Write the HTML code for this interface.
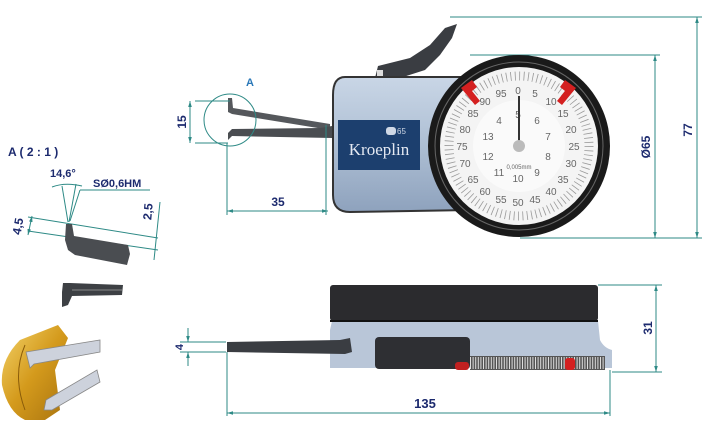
<!DOCTYPE html>
<html><head><meta charset="utf-8"><style>
html,body{margin:0;padding:0;background:#fff;}
svg{display:block;}
.d{stroke:#2e8a86;stroke-width:1;fill:none;}
.t{font-family:"Liberation Sans",sans-serif;font-weight:bold;fill:#1c2a6e;}
.n{font-family:"Liberation Sans",sans-serif;fill:#666;font-size:10px;text-anchor:middle;}
</style></head><body>
<svg width="712" height="426" viewBox="0 0 712 426" xmlns="http://www.w3.org/2000/svg">
<defs>
<marker id="a" viewBox="0 0 10 10" refX="10" refY="5" markerWidth="6" markerHeight="6" orient="auto-start-reverse"><path d="M0,2 L10,5 L0,8z" fill="#2e8a86"/></marker>
<linearGradient id="body" x1="0" y1="0" x2="0" y2="1"><stop offset="0" stop-color="#c9d6e6"/><stop offset="0.5" stop-color="#aebfd4"/><stop offset="1" stop-color="#8ea2bd"/></linearGradient>
<linearGradient id="gold" x1="0" y1="0" x2="1" y2="1"><stop offset="0" stop-color="#f3d36a"/><stop offset="0.5" stop-color="#d49a1c"/><stop offset="1" stop-color="#a8730f"/></linearGradient>
</defs>

<line class="d" x1="450" y1="17" x2="702" y2="17"/>
<line class="d" x1="470" y1="55" x2="660" y2="55"/>
<line class="d" x1="520" y1="238" x2="702" y2="238"/>
<line class="d" x1="655" y1="55" x2="655" y2="238" marker-start="url(#a)" marker-end="url(#a)"/>
<line class="d" x1="697" y1="17" x2="697" y2="238" marker-start="url(#a)" marker-end="url(#a)"/>
<text class="t" font-size="12" transform="translate(650,147) rotate(-90)" text-anchor="middle">Ø65</text>
<text class="t" font-size="12" transform="translate(692,130) rotate(-90)" text-anchor="middle">77</text>

<path d="M375,78 L378,66 L410,58 L430,45 L445,28 L457,24 L452,38 L440,55 L425,70 L400,78 Z" fill="#3a3d42"/>
<rect x="377" y="70" width="6" height="10" fill="#ddd"/>

<path d="M228,98 L232,98 L233,108 L330,124 L330,130 L232,114 L228,112 Z" fill="#55585c"/>
<path d="M228,133 L232,129 L320,128 L332,126 L332,138 L232,136 L228,140 Z" fill="#4a4d51"/>
<line class="d" x1="326" y1="125" x2="326" y2="215"/>
<circle class="d" cx="230" cy="120" r="26"/>
<text x="246" y="86" font-family="Liberation Sans,sans-serif" font-weight="bold" font-size="11" fill="#2a78b8">A</text>
<line class="d" x1="195" y1="101" x2="230" y2="101"/>
<line class="d" x1="195" y1="143" x2="228" y2="143"/>
<line class="d" x1="190" y1="101" x2="190" y2="143" marker-start="url(#a)" marker-end="url(#a)"/>
<text class="t" font-size="12" transform="translate(186,122) rotate(-90)" text-anchor="middle">15</text>
<line class="d" x1="227" y1="143" x2="227" y2="215"/>
<line class="d" x1="227" y1="211" x2="328" y2="211" marker-start="url(#a)" marker-end="url(#a)"/>
<text class="t" font-size="12" x="278" y="206" text-anchor="middle">35</text>

<path d="M345,77 L460,77 L470,210 L350,212 Q333,212 333,195 L333,95 Q333,77 345,77 Z" fill="url(#body)" stroke="#333" stroke-width="2"/>
<rect x="338" y="120" width="82" height="50" fill="#1c3f6e"/>
<rect x="386" y="127" width="10" height="8" rx="3" fill="#cfd8e6"/>
<text x="397" y="134" font-family="Liberation Sans,sans-serif" font-size="8" fill="#cfd8e6">65</text>
<text x="379" y="155" font-family="Liberation Serif,serif" font-size="17" fill="#e4e9f2" text-anchor="middle">Kroeplin</text>

<circle cx="519" cy="146" r="91" fill="#1a1a1a"/>
<circle cx="519" cy="146" r="84" fill="none" stroke="#666" stroke-width="1"/>
<circle cx="519" cy="146" r="79" fill="#f4f4f4"/>
<circle cx="519" cy="146" r="70" fill="none" stroke="#999" stroke-width="9" stroke-dasharray="0.8 3.6"/>
<circle cx="519" cy="146" r="46" fill="#fafafa"/>
<g class="n">
<text x="518" y="94">0</text><text x="535" y="97">5</text><text x="551" y="105">10</text><text x="563" y="117">15</text><text x="571" y="133">20</text><text x="574" y="150">25</text><text x="571" y="167">30</text><text x="563" y="183">35</text><text x="551" y="195">40</text><text x="535" y="203">45</text><text x="518" y="206">50</text><text x="501" y="203">55</text><text x="485" y="195">60</text><text x="473" y="183">65</text><text x="465" y="167">70</text><text x="462" y="150">75</text><text x="465" y="133">80</text><text x="473" y="117">85</text><text x="485" y="105">90</text><text x="501" y="97">95</text>
<text x="518" y="118">5</text><text x="537" y="124">6</text><text x="548" y="140">7</text><text x="548" y="160">8</text><text x="537" y="176">9</text><text x="518" y="182">10</text><text x="499" y="176">11</text><text x="488" y="160">12</text><text x="488" y="140">13</text><text x="499" y="124">4</text>
<text x="519" y="169" font-size="6">0,005mm</text>
</g>
<line x1="519" y1="146" x2="519" y2="96" stroke="#333" stroke-width="2"/>
<circle cx="519" cy="146" r="6" fill="#bbb"/>
<path d="M461,88 L472,80 L477,87 L472,91 L480,101 L475,105 L466,94 Z" fill="#d42020"/>
<path d="M576,88 L565,80 L560,87 L565,91 L557,101 L562,105 L571,94 Z" fill="#d42020"/>

<text class="t" font-size="12" x="8" y="156">A ( 2 : 1 )</text>
<text class="t" font-size="11" x="50" y="177">14,6°</text>
<text class="t" font-size="11" x="93" y="187">SØ0,6HM</text>
<line class="d" x1="80" y1="190" x2="150" y2="190"/>
<line class="d" x1="80" y1="190" x2="70" y2="221"/>
<path class="d" d="M52,187 Q65,182 82,186"/>
<line class="d" x1="62" y1="186" x2="68" y2="222"/>
<line class="d" x1="76" y1="184" x2="69" y2="222"/>
<line class="d" x1="28" y1="217" x2="158" y2="238"/>
<line class="d" x1="28" y1="231" x2="158" y2="250"/>
<line class="d" x1="32" y1="216" x2="28" y2="235" marker-start="url(#a)" marker-end="url(#a)"/>
<text class="t" font-size="12" transform="translate(22,227) rotate(-80)" text-anchor="middle">4,5</text>
<line class="d" x1="160" y1="202" x2="154" y2="260"/>
<text class="t" font-size="12" transform="translate(152,212) rotate(-85)" text-anchor="middle">2,5</text>
<path d="M66,224 L72,224 L74,236 L128,245 L130,254 L127,265 L75,255 L68,250 L65,240 Z" fill="#4a4d51"/>

<path d="M63,283 L70,283 L123,285 L122,295 L72,296 L68,305 L62,307 L62,292 Z" fill="#3d4044"/>
<line x1="72" y1="290" x2="122" y2="290" stroke="#888" stroke-width="1"/>

<path d="M20,340 Q0,360 2,385 Q8,412 25,420 L45,420 L60,410 L55,370 L68,338 L58,325 Z" fill="url(#gold)"/>
<path d="M25,345 Q12,375 25,410" stroke="#8a5c0a" fill="none"/>
<path d="M26,352 L100,340 L100,352 L34,364 L30,368 Z" fill="#cdd2dc" stroke="#888" stroke-width="0.8"/>
<path d="M46,400 L97,370 L100,382 L52,410 L44,410 Z" fill="#cdd2dc" stroke="#888" stroke-width="0.8"/>

<rect x="330" y="285" width="268" height="36" rx="3" fill="#2b2b2e"/>
<path d="M332,321 L598,321 L600,340 Q604,348 612,350 L612,368 L330,368 L330,330 Z" fill="#b9c6d8"/>
<rect x="330" y="320" width="268" height="2" fill="#111"/>
<rect x="470" y="356" width="135" height="14" fill="#555"/>
<line x1="470" y1="363" x2="605" y2="363" stroke="#ddd" stroke-width="12" stroke-dasharray="1 1.6"/>
<rect x="375" y="337" width="95" height="32" rx="4" fill="#2e2f33"/>
<rect x="455" y="362" width="14" height="8" rx="3" fill="#c02020"/>
<rect x="565" y="358" width="10" height="12" rx="3" fill="#d42020"/>
<path d="M227,342 L340,340 L350,338 L352,352 L345,354 L227,352 Z" fill="#3a3d42"/>
<line class="d" x1="180" y1="342" x2="226" y2="342"/>
<line class="d" x1="180" y1="352" x2="226" y2="352"/>
<line class="d" x1="188" y1="328" x2="188" y2="342" marker-end="url(#a)"/>
<line class="d" x1="188" y1="366" x2="188" y2="352" marker-end="url(#a)"/>
<text class="t" font-size="11" transform="translate(183,347) rotate(-90)" text-anchor="middle">4</text>
<line class="d" x1="598" y1="285" x2="662" y2="285"/>
<line class="d" x1="612" y1="372" x2="662" y2="372"/>
<line class="d" x1="656" y1="285" x2="656" y2="372" marker-start="url(#a)" marker-end="url(#a)"/>
<text class="t" font-size="12" transform="translate(652,328) rotate(-90)" text-anchor="middle">31</text>
<line class="d" x1="227" y1="352" x2="227" y2="416"/>
<line class="d" x1="610" y1="370" x2="610" y2="416"/>
<line class="d" x1="227" y1="413" x2="610" y2="413" marker-start="url(#a)" marker-end="url(#a)"/>
<text class="t" font-size="13" x="425" y="408" text-anchor="middle">135</text>
</svg>
</body></html>
